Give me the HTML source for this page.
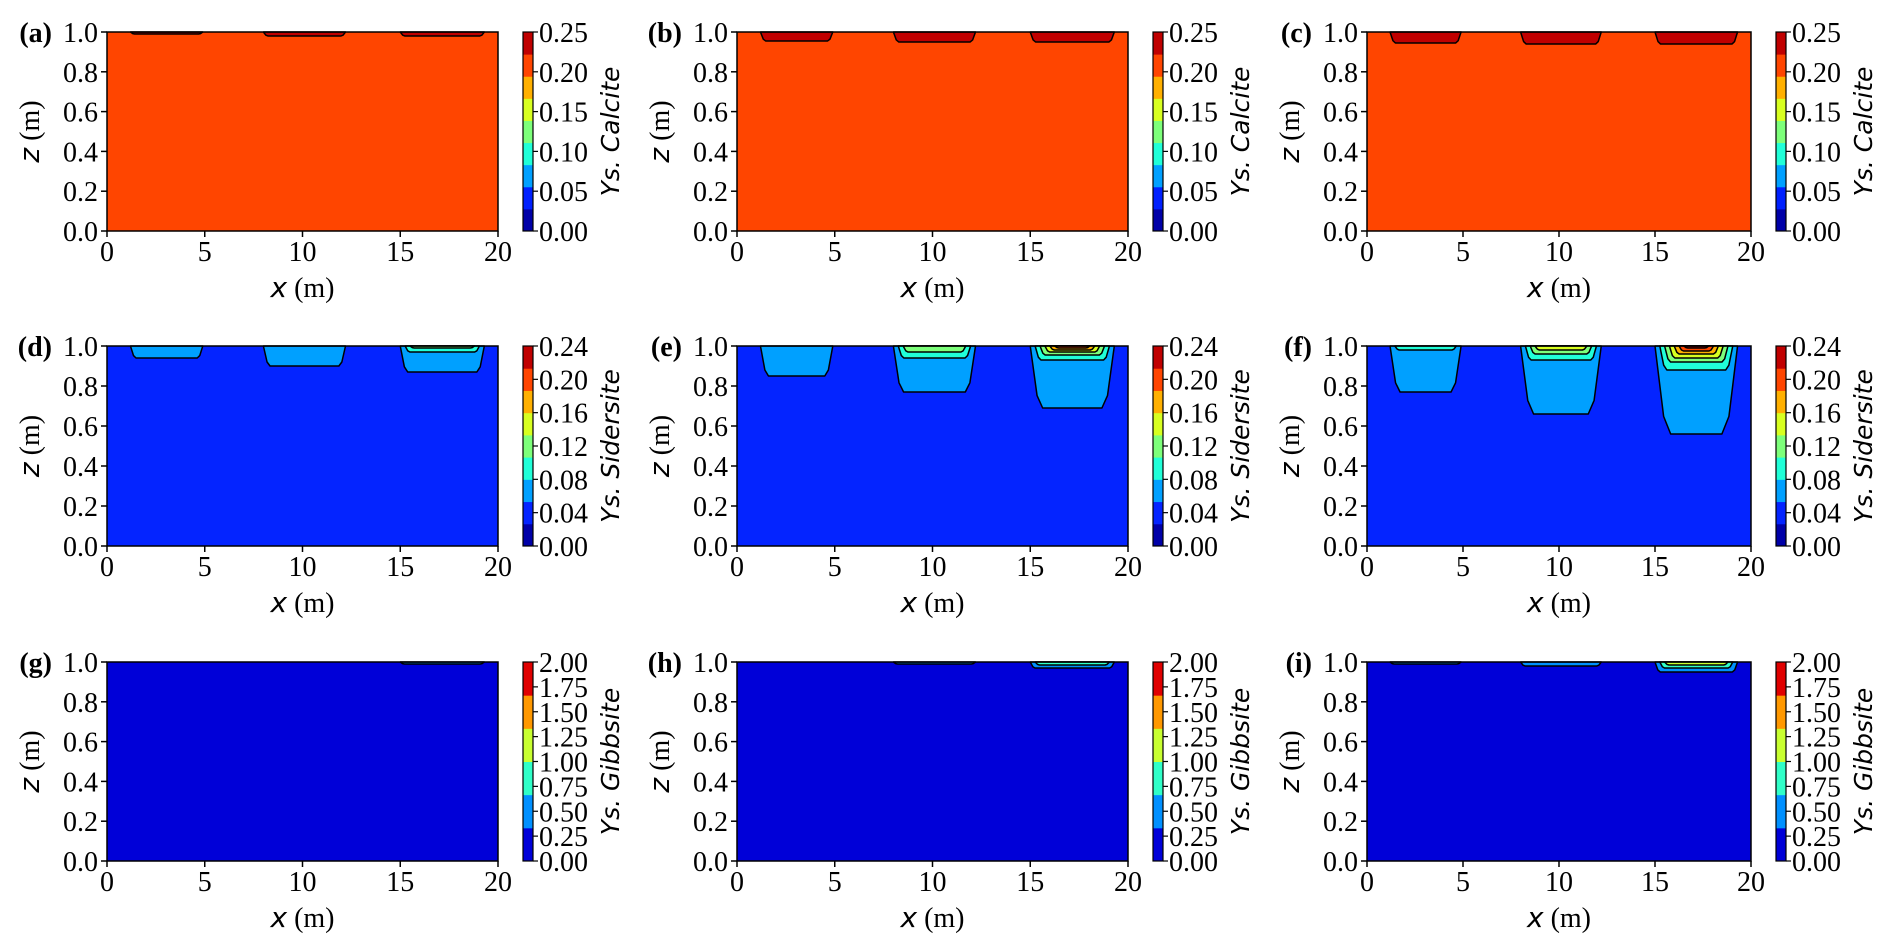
<!DOCTYPE html>
<html><head><meta charset="utf-8"><style>
html,body{margin:0;padding:0;background:#fff;}
svg{display:block;}
.tk{font-family:"Liberation Serif",serif;font-size:28px;fill:#000;}
.lb{font-family:"Liberation Serif",serif;font-size:28px;font-weight:bold;fill:#000;}
.it{font-family:"DejaVu Sans",sans-serif;font-style:italic;font-size:25px;fill:#000;}
</style></head><body>
<svg id="fig" width="1892" height="950" xmlns="http://www.w3.org/2000/svg"></svg>
<script>
// data
const panelLabels = ["(a)","(b)","(c)","(d)","(e)","(f)","(g)","(h)","(i)"];
const rowMinerals = ["Calcite","Sidersite","Gibbsite"];
const rowCbarTicks = [
  ["0.00","0.05","0.10","0.15","0.20","0.25"],
  ["0.00","0.04","0.08","0.12","0.16","0.20","0.24"],
  ["0.00","0.25","0.50","0.75","1.00","1.25","1.50","1.75","2.00"]
];
const rowBandColors = [
  ["#0000a8","#0020ff","#00a0ff","#20ffd8","#7dff7a","#d8ff20","#ffb000","#ff4500","#c00000"],
  ["#0000a8","#0424ff","#00a0ff","#20ffd8","#7dff7a","#d8ff20","#ffb000","#ff4500","#c00000"],
  ["#0000d8","#0090ff","#30ffc8","#c8ff30","#ff9800","#e00000"]
];
const rowBgIndex = [7,1,0];
const xTicks = [0,5,10,15,20];
const zTicks = [0,0.2,0.4,0.6,0.8,1.0];
const zoneX0 = [1.2,8.0,15.0];
const zoneX1 = [4.9,12.2,19.3];
// per panel, per zone: list of [bottom z, band index]
const panelPockets = [
  [[[0.99,8]],[[0.98,8]],[[0.98,8]]],
  [[[0.955,8]],[[0.95,8]],[[0.95,8]]],
  [[[0.945,8]],[[0.94,8]],[[0.94,8]]],
  [[[0.94,2]],[[0.90,2]],[[0.87,2],[0.97,3],[0.99,4]]],
  [[[0.85,2]],[[0.77,2],[0.94,3],[0.97,4]],[[0.69,2],[0.93,3],[0.955,4],[0.97,5],[0.98,6],[0.99,7]]],
  [[[0.77,2],[0.98,3]],[[0.66,2],[0.93,3],[0.96,4],[0.98,5]],[[0.56,2],[0.88,3],[0.92,4],[0.94,5],[0.96,6],[0.975,7],[0.99,8]]],
  [[],[],[[0.99,1]]],
  [[],[[0.99,1]],[[0.97,1],[0.985,2]]],
  [[[0.99,1]],[[0.98,1]],[[0.95,1],[0.97,2],[0.985,3]]]
];
const colLeft=[107,737,1367], colRight=[498,1128,1751], rowTop=[32,346,662], rowBot=[231,546,861];
const NS="http://www.w3.org/2000/svg";
const svg=document.getElementById('fig');
function mk(tag,attrs,parent){const e=document.createElementNS(NS,tag);for(const k in attrs)e.setAttribute(k,attrs[k]);(parent||svg).appendChild(e);return e;}
for(let r=0;r<3;r++)for(let c=0;c<3;c++){
  const p=r*3+c,L=colLeft[c],R=colRight[c],T=rowTop[r],B=rowBot[r];
  const sx=v=>L+(R-L)*v/20, sz=v=>B-(B-T)*v;
  const g=mk('g',{});
  
  
  const cols=rowBandColors[r];
  const bg=mk('rect',{x:L,y:T,width:R-L,height:B-T,fill:cols[rowBgIndex[r]]},g);
  
  
  panelPockets[p].forEach((levels,zi)=>{
    levels.forEach((lv,li)=>{
      const zb=lv[0],d=1-zb,inset=li*0.25;
      const x0=zoneX0[zi]+inset,x1=zoneX1[zi]-inset,t=d*1.4+0.2;
      const pts=[[x0,1],[x0+t*0.55,zb+d*0.2],[x0+t,zb],[x1-t,zb],[x1-t*0.55,zb+d*0.2],[x1,1]];
      const poly=mk('polygon',{points:pts.map(q=>sx(q[0])+','+sz(q[1])).join(' '),fill:cols[lv[1]],stroke:'#000','stroke-width':1.5,'stroke-linejoin':'round'},g);
      
      
    });
  });
  mk('rect',{x:L,y:T,width:R-L,height:B-T,fill:'none',stroke:'#000','stroke-width':1.5},g);
  xTicks.forEach(v=>{mk('line',{x1:sx(v),x2:sx(v),y1:B,y2:B+6,stroke:'#000','stroke-width':1.5},g);
    const t=mk('text',{x:sx(v),y:B+30,'text-anchor':'middle',class:'tk'},g);t.textContent=v;
    });
  zTicks.forEach(v=>{mk('line',{x1:L-6,x2:L,y1:sz(v),y2:sz(v),stroke:'#000','stroke-width':1.5},g);
    const t=mk('text',{x:L-9,y:sz(v)+10,'text-anchor':'end',class:'tk'},g);t.textContent=v.toFixed(1);
    });
  const pl=mk('text',{x:L-55,y:T+10,'text-anchor':'end',class:'lb'},g);pl.textContent=panelLabels[p];
  
  const xl=mk('text',{x:(L+R)/2,y:B+66,'text-anchor':'middle'},g);
  
  xl.innerHTML='<tspan class="it" style="font-size:28px">x</tspan><tspan class="tk"> (m)</tspan>';
  const zl=mk('text',{transform:`translate(${L-68},${(T+B)/2}) rotate(-90)`,'text-anchor':'middle'},g);
  
  zl.innerHTML='<tspan class="it" style="font-size:28px">z</tspan><tspan class="tk"> (m)</tspan>';
  // colorbar
  const cx=R+25,cw=10,n=cols.length,bh=(B-T)/n;
  const cb=mk('g',{},g);
  cols.forEach((cl,i)=>mk('rect',{x:cx,y:B-(i+1)*bh,width:cw,height:bh+0.5,fill:cl},cb));
  mk('rect',{x:cx,y:T,width:cw,height:B-T,fill:'none',stroke:'#000','stroke-width':1.2},cb);
  const tk=rowCbarTicks[r];
  tk.forEach((s,i)=>{const y=B-(B-T)*i/(tk.length-1);
    mk('line',{x1:cx+cw,x2:cx+cw+5,y1:y,y2:y,stroke:'#000','stroke-width':1.2},cb);
    const t=mk('text',{x:cx+cw+6,y:y+10,class:'tk'},cb);t.textContent=s;
    });
  const ct=mk('text',{transform:`translate(${cx+96},${(T+B)/2}) rotate(-90)`,'text-anchor':'middle',class:'it'},cb);
  ct.textContent='Ys. '+rowMinerals[r];
  
}
</script>
</body></html>
